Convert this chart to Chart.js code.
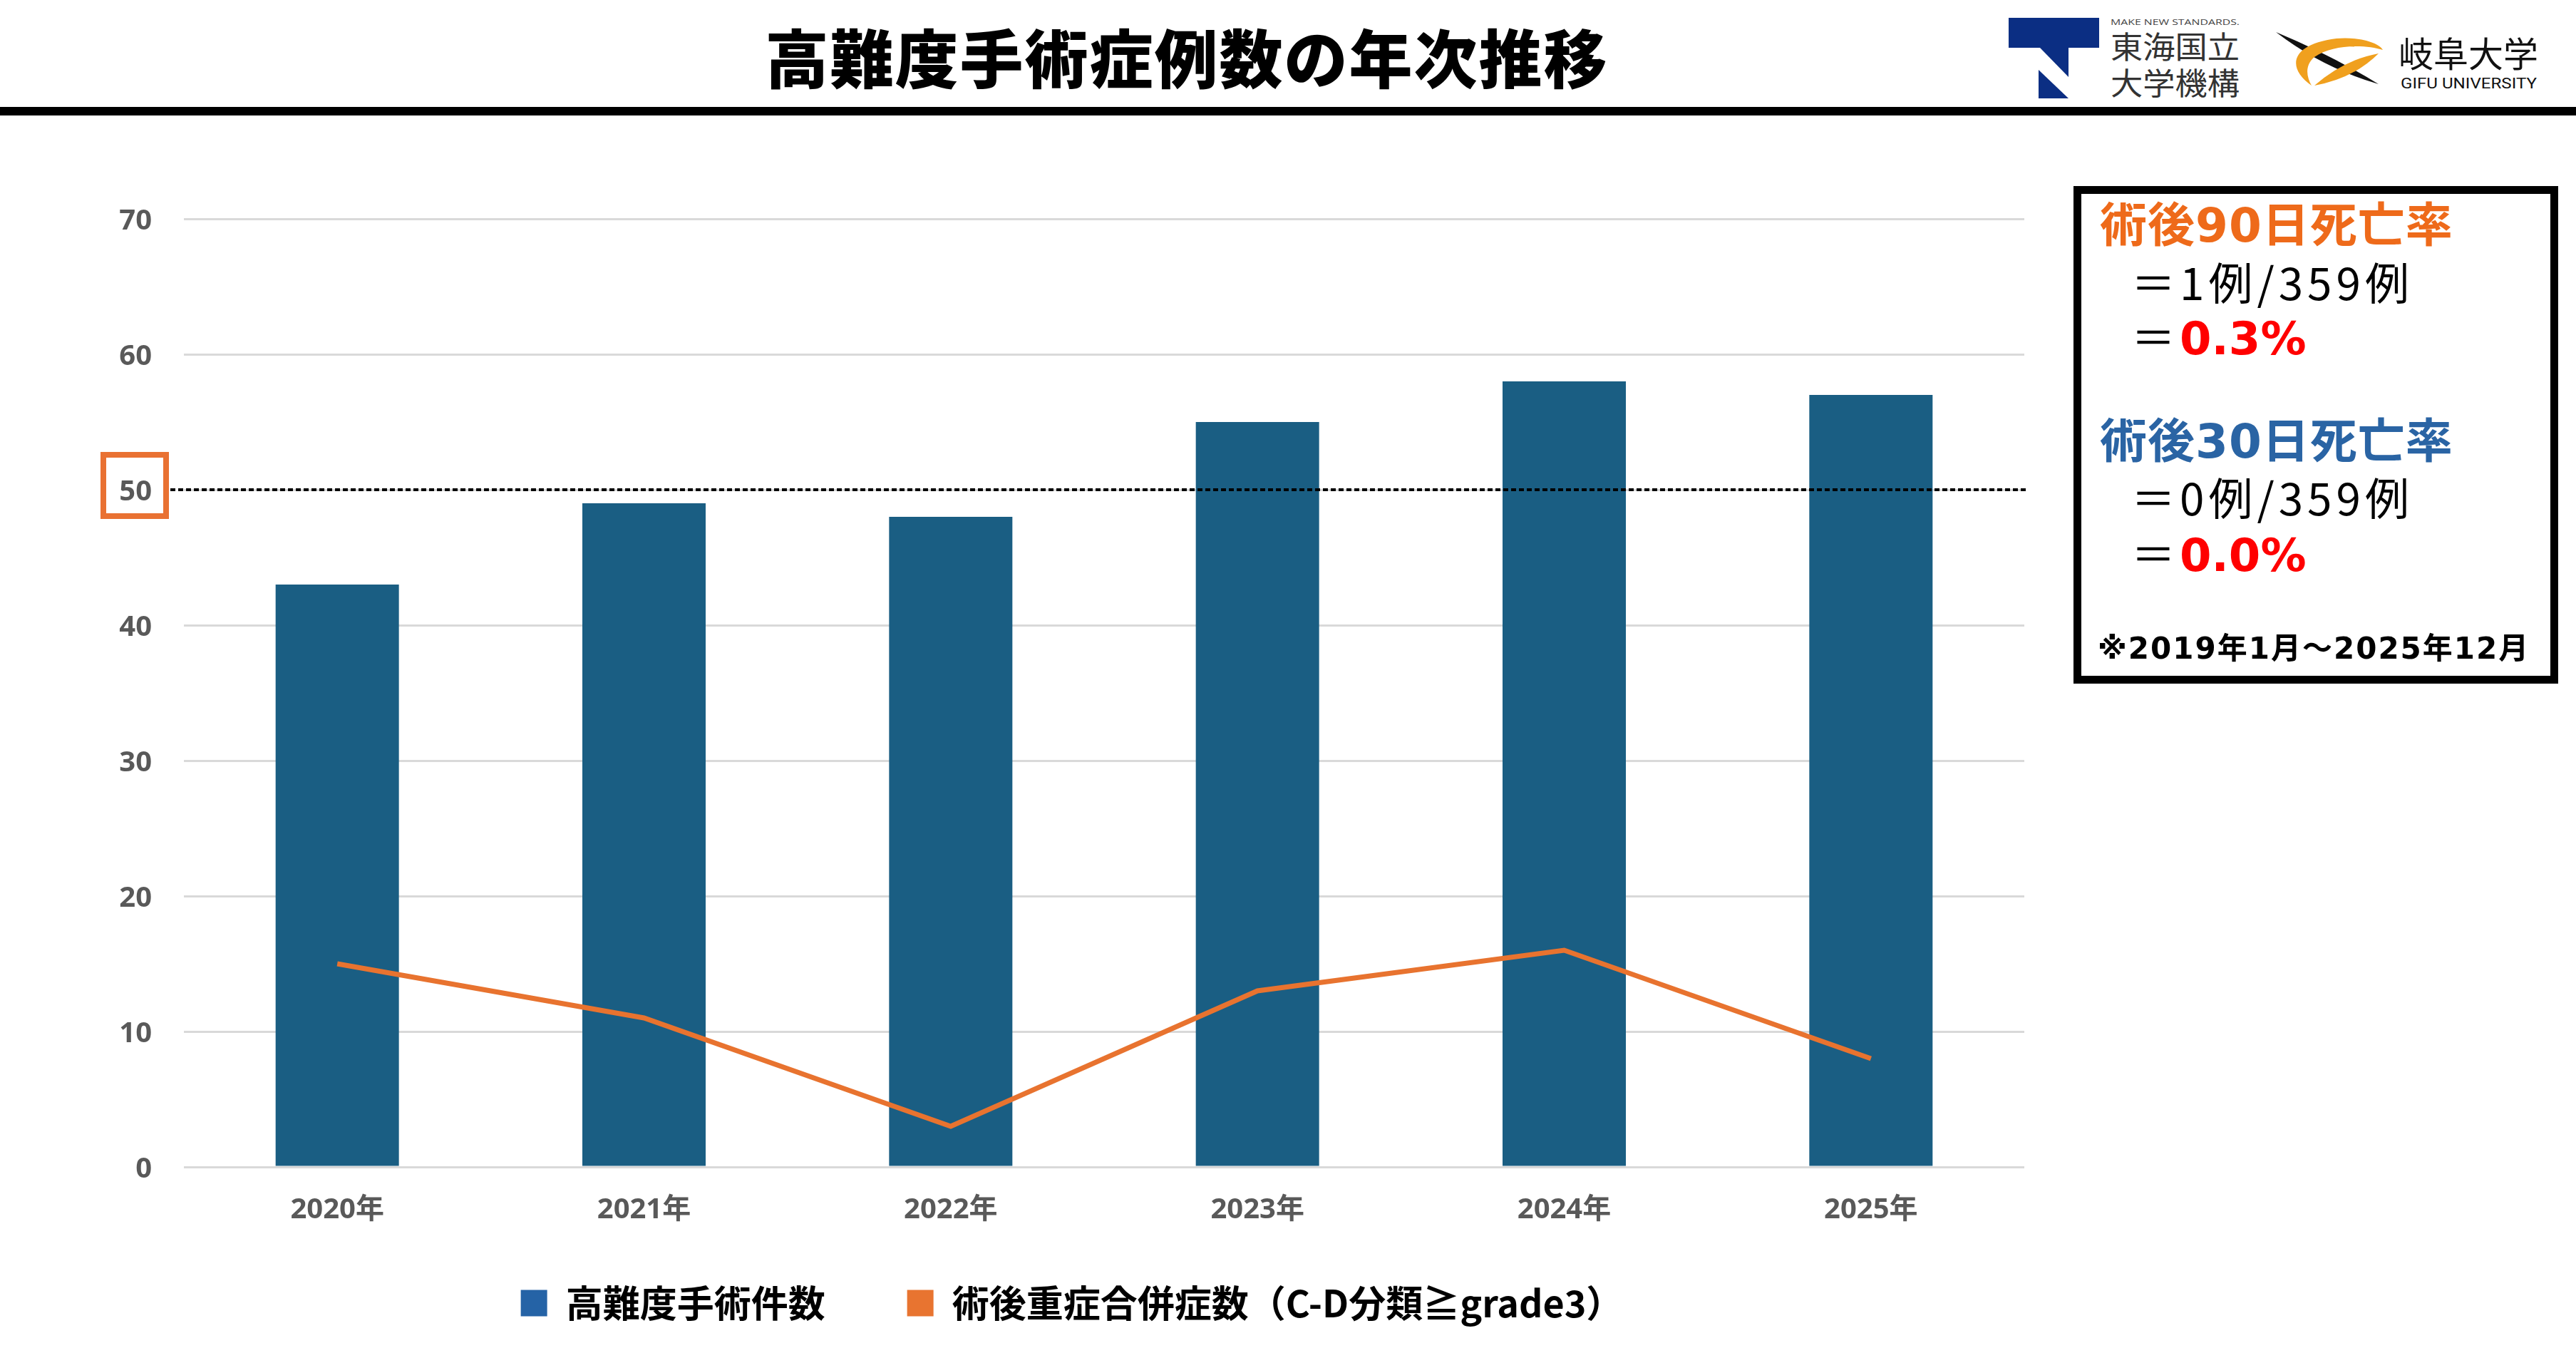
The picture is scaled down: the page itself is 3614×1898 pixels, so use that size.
<!DOCTYPE html>
<html><head><meta charset="utf-8">
<script src="https://cdn.jsdelivr.net/npm/chart.js@4.4.1/dist/chart.umd.min.js"></script>
<style>
html,body{margin:0;padding:0;background:#fff;width:3614px;height:1898px;overflow:hidden;position:relative;font-family:"Noto Sans CJK JP",sans-serif;}
#title{position:absolute;left:0;width:3330px;top:28px;height:100px;line-height:100px;text-align:center;font-size:89px;font-weight:900;letter-spacing:2px;color:#000;}
#rule{position:absolute;left:0;top:150px;width:3614px;height:12px;background:#000;}
#logos{position:absolute;left:0;top:0;}
#chartWrap{position:absolute;left:0;top:170px;width:2996px;height:1728px;}
#box{position:absolute;left:2909px;top:261px;width:680px;height:698px;border:11px solid #000;box-sizing:border-box;}
.ln{position:absolute;height:100px;line-height:100px;white-space:nowrap;}
.hd{font-family:"DejaVu Sans","Noto Sans CJK JP",sans-serif;font-weight:700;font-size:66px;letter-spacing:1px;}
.eq{font-family:"Noto Sans CJK JP",sans-serif;font-weight:400;font-size:62px;letter-spacing:6px;color:#000;}
.pct{font-family:"DejaVu Sans",sans-serif;font-weight:700;font-size:64px;color:#FF0000;letter-spacing:0;}
.note{font-family:"DejaVu Sans","Noto Sans CJK JP",sans-serif;font-weight:700;font-size:42px;letter-spacing:2px;color:#000;}
</style></head><body>
<div id="title">高難度手術症例数の年次推移</div>
<div id="rule"></div>
<svg id="logos" width="3614" height="150" viewBox="0 0 3614 150">
  <rect x="2818" y="25" width="127" height="42" fill="#0B2E83"/>
  <polygon points="2862,67 2902,67 2902,108" fill="#0B2E83"/>
  <polygon points="2860,98 2860,138 2902,138" fill="#0B2E83"/>
  <text x="2961" y="35" font-family="Open Sans" font-size="11" fill="#444" textLength="181" lengthAdjust="spacingAndGlyphs">MAKE NEW STANDARDS.</text>
  <text x="2961" y="82" font-family="Noto Sans CJK JP" font-size="43" fill="#333" textLength="181" lengthAdjust="spacingAndGlyphs">東海国立</text>
  <text x="2961" y="133" font-family="Noto Sans CJK JP" font-size="43" fill="#333" textLength="181" lengthAdjust="spacingAndGlyphs">大学機構</text>
  <path d="M3193 45 Q3272 78 3337 118 Q3258 95 3193 45 Z" fill="#111"/>
  <path d="M3243 120 C3208 96 3212 62 3278 54 C3308 51 3338 60 3343 70 C3318 62 3272 62 3247 80 C3233 92 3236 108 3243 120 Z" fill="#F0A01E"/>
  <path d="M3247 120 Q3288 84 3337 75 Q3302 110 3247 120 Z" fill="#F0A01E"/>
  <text x="3365" y="94" font-family="Noto Sans CJK JP" font-size="49" fill="#111" textLength="196" lengthAdjust="spacingAndGlyphs">岐阜大学</text>
  <text x="3368" y="124" font-family="Roboto" font-size="21" fill="#111" textLength="191" lengthAdjust="spacingAndGlyphs">GIFU UNIVERSITY</text>
</svg>
<div id="chartWrap"><canvas id="c" width="2996" height="1728"></canvas></div>
<div id="box"></div>
<div class="ln hd" style="left:2946px;top:267px;color:#EE6A1A;">術後90日死亡率</div>
<div class="ln eq" style="left:2990px;top:344px;">＝1例/359例</div>
<div class="ln eq" style="left:2990px;top:420px;">＝<span class="pct">0.3%</span></div>
<div class="ln hd" style="left:2946px;top:570px;color:#2A64A4;">術後30日死亡率</div>
<div class="ln eq" style="left:2990px;top:646px;">＝0例/359例</div>
<div class="ln eq" style="left:2990px;top:724px;">＝<span class="pct">0.0%</span></div>
<div class="ln note" style="left:2943px;top:860px;">※2019年1月～2025年12月</div>
<script>
const categories = ['2020年','2021年','2022年','2023年','2024年','2025年'];
const surgeryCounts = [43, 49, 48, 55, 58, 57];
const complicationCounts = [15, 11, 3, 13, 16, 8];
const seriesNames = ['高難度手術件数', '術後重症合併症数（C-D分類≧grade3）'];
const yMin = 0, yMax = 70, yStep = 10;
const thresholdValue = 50;

const barColor = '#1A5E83';
const lineColor = '#E8732F';
const legendColors = ['#2563A6', '#E87430'];

const thresholdPlugin = {
  id: 'threshold',
  afterDraw(chart) {
    const ctx = chart.ctx, y = chart.scales.y.getPixelForValue(thresholdValue);
    const area = chart.chartArea;
    ctx.save();
    ctx.strokeStyle = '#000';
    ctx.lineWidth = 4;
    ctx.setLineDash([7, 4]);
    ctx.beginPath();
    ctx.moveTo(239, y);
    ctx.lineTo(area.right + 2, y);
    ctx.stroke();
    ctx.setLineDash([]);
    ctx.strokeStyle = '#E97132';
    ctx.lineWidth = 8;
    ctx.strokeRect(145, y - 49, 88, 86);
    ctx.restore();
  }
};

// nudge the legend box so it sits where the reference legend sits
const legendNudge = {
  id: 'legendNudge',
  afterLayout(chart) {
    const lg = chart.legend;
    if (!lg) return;
    lg.top -= 34; lg.bottom -= 34;
    lg.left += 84; lg.right += 84;
  }
};

new Chart(document.getElementById('c'), {
  type: 'bar',
  data: {
    labels: categories,
    datasets: [
      { type: 'bar', label: seriesNames[0], data: surgeryCounts, backgroundColor: barColor,
        categoryPercentage: 1.0, barPercentage: 0.402, order: 1 },
      { type: 'line', label: seriesNames[1], data: complicationCounts, borderColor: lineColor,
        backgroundColor: lineColor, borderWidth: 7, pointRadius: 0, tension: 0, order: 0,
        borderJoinStyle: 'miter' }
    ]
  },
  options: {
    responsive: false,
    animation: false,
    devicePixelRatio: 1,
    layout: { padding: { top: 137, right: 156, bottom: 0, left: 0 } },
    plugins: {
      tooltip: { enabled: false },
      legend: {
        position: 'bottom',
        labels: {
          font: { family: '"Noto Sans CJK JP", sans-serif', size: 52, weight: 'bold' },
          color: '#000',
          boxWidth: 37, boxHeight: 37, padding: 115,
          generateLabels: (chart) => seriesNames.map((name, i) => ({
            text: name, fillStyle: legendColors[i], strokeStyle: legendColors[i],
            lineWidth: 0, hidden: false, datasetIndex: i
          }))
        }
      }
    },
    scales: {
      x: {
        grid: { display: false, drawTicks: false },
        border: { display: false },
        ticks: { color: '#595959', padding: 37, font: { family: '"Open Sans", "Noto Sans CJK JP", sans-serif', size: 40, weight: 'bold' } },
        afterFit(scale) { scale.height = 84; }
      },
      y: {
        min: yMin, max: yMax,
        grid: { color: '#D9D9D9', lineWidth: 3, drawTicks: false },
        border: { display: false },
        ticks: { stepSize: yStep, color: '#595959', padding: 45, labelOffset: 4, font: { family: '"Open Sans", sans-serif', size: 40, weight: 'bold' } },
        afterFit(scale) { scale.width = 258; }
      }
    }
  },
  plugins: [thresholdPlugin, legendNudge]
});
</script>
</body></html>
